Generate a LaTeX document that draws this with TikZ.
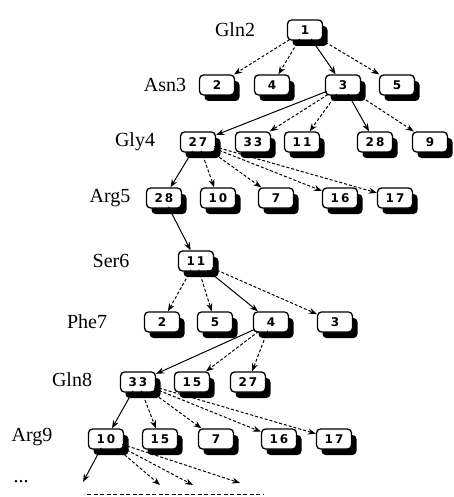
\documentclass[tikz,border=0pt]{standalone}
\usepackage{fontspec}
\setmainfont{Liberation Serif}
\newfontfamily\boxfont{DejaVu Sans}
\usetikzlibrary{arrows.meta,shadows}
\begin{document}
\begin{tikzpicture}[x=1pt,y=-1pt,
  nd/.style={draw=black,line width=1.3pt,fill=white,rounded corners=4pt,
    minimum width=35pt,minimum height=20pt,inner sep=1pt,
    font=\boxfont\bfseries\fontsize{12}{12}\selectfont,
    drop shadow={shadow xshift=5pt,shadow yshift=-6pt,fill=black,opacity=1}},
  lab/.style={font=\fontsize{20}{20}\selectfont},
  sol/.style={-{Stealth[length=8pt,width=6pt]},line width=1pt,shorten <=-2pt},
  das/.style={sol,dash pattern=on 3pt off 2pt},
]
\useasboundingbox (0,0) rectangle (454,497);
% labels
\node[lab] (L2) at (235,30) {Gln2};
\node[lab] (L3) at (165,85) {Asn3};
\node[lab] (L4) at (135,142) {Gly4};
\node[lab] (L5) at (110,198) {Arg5};
\node[lab] (L6) at (111,261) {Ser6};
\node[lab] (L7) at (87,322) {Phe7};
\node[lab] (L8) at (72,380) {Gln8};
\node[lab] (L9) at (32,437) {Arg9};
\node[lab] (L10) at (21,482) {...};
% nodes
\node[nd] (n1) at (305,30) {1};
\node[nd] (a2) at (217,85) {2};
\node[nd] (a4) at (272,85) {4};
\node[nd] (a3) at (343,85) {3};
\node[nd] (a5) at (397,85) {5};
\node[nd] (g27) at (198,142) {2\,7};
\node[nd] (g33) at (253,142) {3\,3};
\node[nd] (g11) at (302,142) {1\,1};
\node[nd] (g28) at (375,142) {2\,8};
\node[nd] (g9) at (430,142) {9};
\node[nd] (r28) at (164,198) {2\,8};
\node[nd] (r10) at (218,198) {1\,0};
\node[nd] (r7) at (276,198) {7};
\node[nd] (r16) at (340,198) {1\,6};
\node[nd] (r17) at (395,198) {1\,7};
\node[nd] (s11) at (196,261) {1\,1};
\node[nd] (p2) at (162,322) {2};
\node[nd] (p5) at (215,322) {5};
\node[nd] (p4) at (271,322) {4};
\node[nd] (p3) at (335,322) {3};
\node[nd] (q33) at (138,382) {3\,3};
\node[nd] (q15) at (192,382) {1\,5};
\node[nd] (q27) at (248,382) {2\,7};
\node[nd] (b10) at (106,439) {1\,0};
\node[nd] (b15) at (160,439) {1\,5};
\node[nd] (b7) at (216,439) {7};
\node[nd] (b16) at (279,439) {1\,6};
\node[nd] (b17) at (334,439) {1\,7};
% free ends
\coordinate (e1) at (83,482);
\coordinate (e2) at (160,485);
\coordinate (e3) at (193,485);
\coordinate (e4) at (240,483);
\coordinate (d1) at (87,494);
\coordinate (d2) at (263,494);
% edges
\draw[das] (n1) -- (a2);
\draw[das] (n1) -- (a4);
\draw[sol] (n1) -- (a3);
\draw[das] (n1) -- (a5);
\draw[sol] (a3) -- (g27);
\draw[das] (a3) -- (g33);
\draw[das] (a3) -- (g11);
\draw[sol] (a3) -- (g28);
\draw[das] (a3) -- (g9);
\draw[sol] (g27) -- (r28);
\draw[das] (g27) -- (r10);
\draw[das] (g27) -- (r7);
\draw[das] (g27) -- (r16);
\draw[das] (g27) -- (r17);
\draw[sol] (r28) -- (s11);
\draw[das] (s11) -- (p2);
\draw[das] (s11) -- (p5);
\draw[sol] (s11) -- (p4);
\draw[das] (s11) -- (p3);
\draw[sol] (p4) -- (q33);
\draw[das] (p4) -- (q15);
\draw[das] (p4) -- (q27);
\draw[sol] (q33) -- (b10);
\draw[das] (q33) -- (b15);
\draw[das] (q33) -- (b7);
\draw[das] (q33) -- (b16);
\draw[das] (q33) -- (b17);
\draw[sol] (b10) -- (e1);
\draw[das] (b10) -- (e2);
\draw[das] (b10) -- (e3);
\draw[das] (b10) -- (e4);
\draw[line width=1pt,dash pattern=on 4pt off 2.5pt] (d1) -- (d2);
\end{tikzpicture}
\end{document}
